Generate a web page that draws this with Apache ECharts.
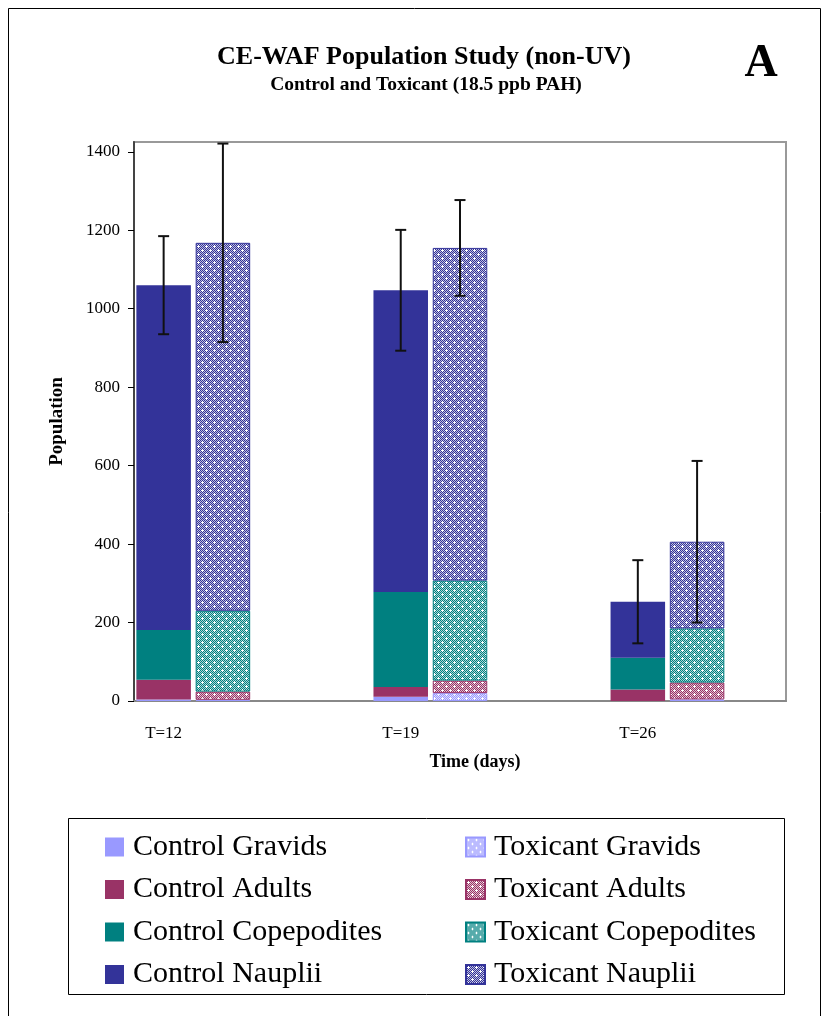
<!DOCTYPE html>
<html><head><meta charset="utf-8">
<script src="https://cdn.jsdelivr.net/npm/echarts@6/dist/echarts.min.js"></script>
<style>html,body{margin:0;padding:0;background:#fff}#c{width:822px;height:1016px}</style>
</head><body><div id="c"></div>
<script>
// ---- data ----
const timepoints = ['T=12', 'T=19', 'T=26'];
const controlGravids      = [4, 11, 0];
const controlAdults       = [50, 25, 29];
const controlCopepodites  = [127, 242, 81];
const controlNauplii      = [879, 769, 143];
const toxicantGravids     = [3, 20, 4];
const toxicantAdults      = [21, 32, 43];
const toxicantCopepodites = [206, 255, 138];
const toxicantNauplii     = [938, 848, 221];
const controlError  = [125, 154, 106];
const toxicantError = [253, 122, 206];
const yTickValues = [0, 200, 400, 600, 800, 1000, 1200, 1400];

// ---- layout helpers (slots on the category axis) ----
const SLOTS_PER_GROUP = 4, N_SLOTS = 11;
const categories = [];
for (let i = 0; i < N_SLOTS; i++) categories.push(i % SLOTS_PER_GROUP === 0 ? (timepoints[i / SLOTS_PER_GROUP] || '') : '');
function place(values, offset) {
  const arr = new Array(N_SLOTS).fill(null);
  values.forEach((v, i) => { arr[i * SLOTS_PER_GROUP + offset] = v; });
  return arr;
}
function hexToRgb(h){h=h.replace('#','');return [parseInt(h.substr(0,2),16),parseInt(h.substr(2,2),16),parseInt(h.substr(4,2),16)];}
function pattern(hex, k) {
  const c = document.createElement('canvas'); c.width = 8; c.height = 8;
  const g = c.getContext('2d');
  const [r, gg, b] = hexToRgb(hex);
  const tint = 'rgb(' + [r, gg, b].map(v => Math.round(255 - k * (255 - v))).join(',') + ')';
  g.fillStyle = tint; g.fillRect(0, 0, 8, 8);
  g.fillStyle = hex;
  for (let y = 0; y < 8; y++) for (let x = 0; x < 8; x++) if ((x + y) % 2 === 0) g.fillRect(x, y, 1, 1);
  g.fillStyle = '#fff';
  [[2, 2], [6, 6]].forEach(([cx, cy]) => { g.fillRect(cx - 1, cy, 3, 1); g.fillRect(cx, cy - 1, 1, 3); });
  return { image: c, repeat: 'repeat' };
}
const FONT = 'Liberation Serif';
const colors = { Gravids: '#9999ff', Adults: '#993366', Copepodites: '#008080', Nauplii: '#333399' };

const controlSets = [['Control Gravids', controlGravids, 'Gravids'], ['Control Adults', controlAdults, 'Adults'],
  ['Control Copepodites', controlCopepodites, 'Copepodites'], ['Control Nauplii', controlNauplii, 'Nauplii']];
const toxicantSets = [['Toxicant Gravids', toxicantGravids, 'Gravids'], ['Toxicant Adults', toxicantAdults, 'Adults'],
  ['Toxicant Copepodites', toxicantCopepodites, 'Copepodites'], ['Toxicant Nauplii', toxicantNauplii, 'Nauplii']];

const series = [];
controlSets.forEach(([name, vals, st]) => series.push({
  name, type: 'bar', stack: 'all', barWidth: '92%', data: place(vals, 0),
  itemStyle: { color: colors[st] }
}));
toxicantSets.forEach(([name, vals, st]) => series.push({
  name, type: 'bar', stack: 'all', barWidth: '92%', data: place(vals, 1),
  itemStyle: { color: pattern(colors[st], 0.32), borderColor: colors[st], borderWidth: 1 }
}));

const controlTotals = timepoints.map((_, i) => controlGravids[i] + controlAdults[i] + controlCopepodites[i] + controlNauplii[i]);
const toxicantTotals = timepoints.map((_, i) => toxicantGravids[i] + toxicantAdults[i] + toxicantCopepodites[i] + toxicantNauplii[i]);
const errData = [];
timepoints.forEach((_, i) => {
  errData.push([i * SLOTS_PER_GROUP, controlTotals[i] - controlError[i], controlTotals[i] + controlError[i]]);
  errData.push([i * SLOTS_PER_GROUP + 1, toxicantTotals[i] - toxicantError[i], toxicantTotals[i] + toxicantError[i]]);
});
series.push({
  type: 'custom', name: 'err', clip: false, z: 5, data: errData,
  renderItem: function (params, api) {
    const lo = api.coord([api.value(0), api.value(1)]);
    const hi = api.coord([api.value(0), api.value(2)]);
    const hw = 5.5;
    const st = { stroke: '#111', lineWidth: 2 };
    return { type: 'group', children: [
      { type: 'line', shape: { x1: hi[0], y1: hi[1], x2: lo[0], y2: lo[1] }, style: st },
      { type: 'line', shape: { x1: hi[0] - hw, y1: hi[1], x2: hi[0] + hw, y2: hi[1] }, style: st },
      { type: 'line', shape: { x1: lo[0] - hw, y1: lo[1], x2: lo[0] + hw, y2: lo[1] }, style: st }
    ]};
  }
});

const legendCommon = {
  orient: 'vertical', top: 832, padding: 0, itemWidth: 19, itemHeight: 19, itemGap: 12.5, icon: 'rect',
  textStyle: { fontFamily: FONT, fontSize: 30, color: '#000', lineHeight: 30, padding: [0, 0, 0, 4] },
  selectedMode: false
};

const chart = echarts.init(document.getElementById('c'));
chart.setOption({
  animation: false,
  backgroundColor: '#fff',
  textStyle: { fontFamily: FONT },
  title: [
    { text: 'CE-WAF Population Study (non-UV)', left: 419, top: 39, textAlign: 'center',
      textStyle: { fontFamily: FONT, fontSize: 26, fontWeight: 'bold', color: '#000' } },
    { text: 'Control and Toxicant (18.5 ppb PAH)', left: 421, top: 70, textAlign: 'center',
      textStyle: { fontFamily: FONT, fontSize: 19.5, fontWeight: 'bold', color: '#000' } },
    { text: 'A', left: 756, top: 36, textAlign: 'center',
      textStyle: { fontFamily: FONT, fontSize: 46, fontWeight: 'bold', color: '#000' } }
  ],
  legend: [
    Object.assign({ left: 105, data: controlSets.map(s => s[0]) }, legendCommon),
    Object.assign({ left: 465, data: toxicantSets.map(s => s[0]) }, legendCommon)
  ],
  grid: { left: 134, top: 142, right: 36, bottom: 315, show: true, borderColor: '#999', borderWidth: 2, containLabel: false },
  xAxis: {
    type: 'category', data: categories,
    axisTick: { show: false },
    axisLine: { lineStyle: { color: '#888', width: 2 } },
    axisLabel: { interval: 0, margin: 24, fontSize: 17, color: '#000', fontFamily: FONT },
    name: 'Time (days)', nameLocation: 'middle', nameGap: 52,
    nameTextStyle: { fontFamily: FONT, fontSize: 18, fontWeight: 'bold', color: '#000', padding: [0, 0, 0, 30] }
  },
  yAxis: {
    type: 'value', min: 0, max: 1425,
    splitLine: { show: false },
    axisLine: { show: true, lineStyle: { color: '#444', width: 2 } },
    axisTick: { show: true, length: 6, customValues: yTickValues, lineStyle: { color: '#000' } },
    axisLabel: { customValues: yTickValues, margin: 14, fontSize: 17, color: '#000', fontFamily: FONT,
      formatter: v => String(v) },
    name: 'Population', nameLocation: 'middle', nameGap: 67,
    nameTextStyle: { fontFamily: FONT, fontSize: 19, fontWeight: 'bold', color: '#000' }
  },
  graphic: [
    { type: 'rect', shape: { x: 8.5, y: 8.5, width: 812, height: 1020 }, style: { fill: 'none', stroke: '#000', lineWidth: 1 }, silent: true, z: 100 },
    { type: 'rect', shape: { x: 68.5, y: 818.5, width: 716, height: 176 }, style: { fill: 'none', stroke: '#000', lineWidth: 1 }, silent: true, z: 100 }
  ],
  series: series
});
</script>
</body></html>
